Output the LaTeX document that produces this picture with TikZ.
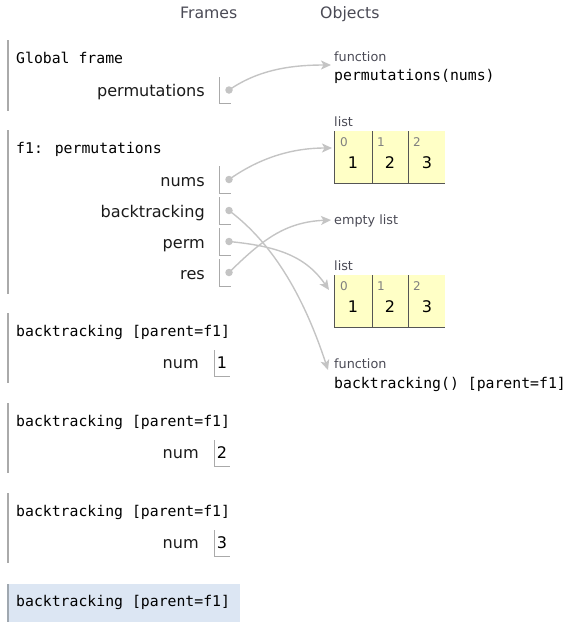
\documentclass[tikz,border=0pt]{standalone}
\usepackage{fontspec}
\setmainfont{DejaVu Sans}
\newfontfamily\codefont{DejaVu Sans Mono}
\usetikzlibrary{arrows.meta}

\definecolor{framegray}{HTML}{AAAAAA}
\definecolor{refgray}{HTML}{C4C4C4}
\definecolor{listyellow}{HTML}{FFFFC6}
\definecolor{listline}{HTML}{555555}
\definecolor{idxgray}{HTML}{808080}
\definecolor{hlblue}{HTML}{DCE6F3}
\definecolor{hledge}{HTML}{A0A8B0}
\definecolor{labelgray}{HTML}{4A4A55}
\definecolor{namegray}{HTML}{1A1A1A}

\tikzset{
  codetext/.style={font=\codefont\fontsize{14.8}{17}\selectfont, text=black, inner sep=0pt, anchor=base west},
  varname/.style={font=\fontsize{16.1}{18}\selectfont, text=namegray, inner sep=0pt, anchor=base east},
  typelabel/.style={font=\fontsize{12.8}{15}\selectfont, text=labelgray, inner sep=0pt, anchor=base west},
  heading/.style={font=\fontsize{15.7}{18}\selectfont, text=labelgray, inner sep=0pt, anchor=base west},
  intval/.style={font=\fontsize{16}{18}\selectfont, text=black, inner sep=0pt, anchor=base},
  idxlabel/.style={font=\fontsize{12}{14}\selectfont, text=idxgray, inner sep=0pt, anchor=base west},
  frameline/.style={draw=framegray, line width=1.3pt},
  slot/.style={draw=framegray, line width=1pt},
  ptrdot/.style={circle, fill=refgray, inner sep=0pt, minimum size=7.5pt},
  ref/.style={draw=refgray, line width=1.4pt, -{Stealth[length=10pt,width=9pt,inset=2.5pt]}},
  cellline/.style={draw=listline, line width=1pt},
}

\begin{document}
\begin{tikzpicture}[x=1pt,y=-1pt]
\useasboundingbox (0,0) rectangle (570,627);

% column headings
\node[heading] (hframes) at (180,18) {Frames};
\node[heading] (hobjects) at (320,18) {Objects};

% ---------- Global frame ----------
\draw[frameline] (8,40) -- (8,111);
\node[codetext] (gtitle) at (16,63) {Global frame};
\node[varname] (gpermlbl) at (205,96) {permutations};
\draw[slot] (219,77) -- (219,103) -- (231,103);
\node[ptrdot] (gperm) at (229,90) {};

% ---------- f1: permutations ----------
\draw[frameline] (8,130) -- (8,294);
\node[codetext] (ftitle) at (16,153) {f1: permutations};
\foreach \nm/\lbl/\yc in {fnums/nums/179.5, fback/backtracking/210.5, fperm/perm/241.5, fres/res/272.5}{
  \node[varname] (\nm lbl) at (205,\yc+6.5) {\lbl};
  \draw[slot] (219,\yc-13.5) -- (219,\yc+13.5) -- (231,\yc+13.5);
  \node[ptrdot] (\nm) at (229,\yc) {};
}

% ---------- backtracking frames ----------
\foreach \k/\top/\v in {1/313/1, 2/403/2, 3/493/3}{
  \draw[frameline] (8,\top) -- (8,\top+70);
  \node[codetext] (btitle\k) at (16,\top+23) {backtracking [parent=f1]};
  \node[varname] (bnum\k) at (199,\top+55.5) {num};
  \draw[slot] (214,\top+37) -- (214,\top+63) -- (230,\top+63);
  \node[intval] (bval\k) at (222,\top+55.5) {\v};
}

% current (highlighted) frame
\fill[hlblue] (8,584) rectangle (240,622);
\draw[draw=hledge, line width=1.5pt] (8,584) -- (8,622);
\node[codetext] (btitle4) at (16,606) {backtracking [parent=f1]};

% ---------- heap objects ----------
% function permutations
\node[typelabel] (fn1type) at (334,61) {function};
\node[codetext] (fn1) at (334,80) {permutations(nums)};
\coordinate (fn1in) at (331,65);

% list [1,2,3] (nums)
\node[typelabel] (l1type) at (334,126) {list};
\fill[listyellow] (334,131) rectangle (445,183);
\draw[cellline] (334,131) -- (334,183) -- (445,183);
\draw[cellline] (372,131) -- (372,183);
\draw[cellline] (408,131) -- (408,183);
\foreach \i/\x/\v/\cx in {0/340/1/353, 1/377/2/390, 2/413/3/427}{
  \node[idxlabel] (l1i\i) at (\x,146.5) {\i};
  \node[intval] (l1v\i) at (\cx,168.5) {\v};
}
\coordinate (l1in) at (332,148);

% empty list (res)
\node[typelabel] (emptyl) at (334,224) {empty list};
\coordinate (emptyin) at (331,220);

% list [1,2,3] (perm)
\node[typelabel] (l2type) at (334,270) {list};
\fill[listyellow] (334,275) rectangle (445,327);
\draw[cellline] (334,275) -- (334,327) -- (445,327);
\draw[cellline] (372,275) -- (372,327);
\draw[cellline] (408,275) -- (408,327);
\foreach \i/\x/\v/\cx in {0/340/1/353, 1/377/2/390, 2/413/3/427}{
  \node[idxlabel] (l2i\i) at (\x,290.5) {\i};
  \node[intval] (l2v\i) at (\cx,312.5) {\v};
}
\coordinate (l2in) at (329,290);

% function backtracking
\node[typelabel] (fn2type) at (334,368) {function};
\node[codetext] (fn2) at (334,388) {backtracking() [parent=f1]};
\coordinate (fn2in) at (328,370);

% ---------- references ----------
\draw[ref] (gperm.center) .. controls (258,70) and (290,65) .. (fn1in);
\draw[ref] (fnums.center) .. controls (258,159) and (290,148) .. (l1in);
\draw[ref] (fres.center) .. controls (262,240) and (285,222) .. (emptyin);
\draw[ref] (fperm.center) .. controls (275,246) and (305,255) .. (l2in);
\draw[ref] (fback.center) .. controls (275,245) and (305,300) .. (fn2in);
\end{tikzpicture}
\end{document}
